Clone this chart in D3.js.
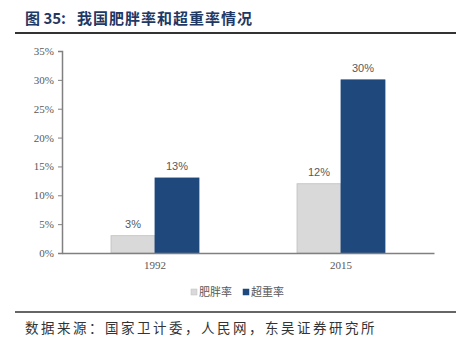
<!DOCTYPE html>
<html><head><meta charset="utf-8">
<script src="https://cdn.jsdelivr.net/npm/d3@7/dist/d3.min.js"></script>
<style>body{margin:0;background:#fff}</style>
</head><body>
<svg id="c" width="466" height="351"></svg>
<script>
const categories = ["1992", "2015"];
const seriesNames = ["肥胖率", "超重率"];
const obesity = [3, 12];
const overweight = [13, 30];
const yTicks = [0, 5, 10, 15, 20, 25, 30, 35];
const titleLabel = "图 35:";
const titleText = "我国肥胖率和超重率情况";
const source = "数据来源：国家卫计委，人民网，东吴证券研究所";

const colors = ["#d9d9d9", "#1f497d"];
const strokes = ["#bfbfbf", "#1f497d"];
const svg = d3.select("#c");
const serif = "'Liberation Serif','DejaVu Serif',serif";
const cjk = "'Noto Sans CJK SC',sans-serif";

// title
svg.append("text").attr("x", 25).attr("y", 24).attr("font-family", cjk)
  .attr("font-weight", "bold").attr("font-size", 15).attr("fill", "#1f3864").text(titleLabel);
svg.append("text").attr("x", 77).attr("y", 24).attr("font-family", cjk)
  .attr("font-weight", "bold").attr("font-size", 15).attr("letter-spacing", 1)
  .attr("fill", "#1f3864").text(titleText);
svg.append("line").attr("x1", 15).attr("x2", 456).attr("y1", 33).attr("y2", 33)
  .attr("stroke", "#333").attr("stroke-width", 2);

const x0 = d3.scaleBand().domain(categories).range([62, 434]).paddingInner(0.527).paddingOuter(0.2635);
const x1 = d3.scaleBand().domain(seriesNames).range([0, x0.bandwidth()]);
const y = d3.scaleLinear().domain([0, 35]).range([253, 51]);

// y axis
const ya = svg.append("g").attr("transform", "translate(62,0)")
  .call(d3.axisLeft(y).tickValues(yTicks).tickSize(4).tickFormat(d => d + "%"));
ya.select(".domain").attr("stroke", "#808080").attr("stroke-width", 1.5);
ya.selectAll(".tick line").attr("stroke", "#808080");
ya.selectAll(".tick text").attr("font-family", serif).attr("font-size", 11).attr("fill", "#595959").attr("x", -8);

// bars
const data = categories.map((c, i) => ({ c, vals: [obesity[i], overweight[i]] }));
const g = svg.append("g");
data.forEach(d => {
  d.vals.forEach((v, j) => {
    const s = seriesNames[j];
    g.append("rect").attr("x", x0(d.c) + x1(s)).attr("y", y(v))
      .attr("width", x1.bandwidth()).attr("height", y(0) - y(v))
      .attr("fill", colors[j]).attr("stroke", strokes[j]).attr("stroke-width", 0.8);
    g.append("text").attr("x", x0(d.c) + x1(s) + x1.bandwidth() / 2).attr("y", y(v) - 8)
      .attr("text-anchor", "middle").attr("font-family", "'Liberation Sans','Open Sans',sans-serif")
      .attr("font-size", 11).attr("fill", "#595959").text(v + "%");
  });
});

// x axis
const xa = svg.append("g").attr("transform", "translate(0,253)")
  .call(d3.axisBottom(x0).tickSize(0).tickSizeOuter(0));
xa.select(".domain").attr("stroke", "#808080").attr("stroke-width", 1.5);
xa.selectAll(".tick text").attr("font-family", serif).attr("font-size", 11).attr("fill", "#595959").attr("dy", "1.2em");

// legend
const lx = [191, 243];
seriesNames.forEach((s, j) => {
  svg.append("rect").attr("x", lx[j]).attr("y", 289).attr("width", 6).attr("height", 6)
    .attr("fill", colors[j]).attr("stroke", strokes[j]).attr("stroke-width", 0.5);
  svg.append("text").attr("x", lx[j] + 8).attr("y", 296).attr("font-family", cjk)
    .attr("font-size", 11).attr("fill", "#595959").text(s);
});

// footer
svg.append("line").attr("x1", 15).attr("x2", 456).attr("y1", 312).attr("y2", 312)
  .attr("stroke", "#333").attr("stroke-width", 1.5);
svg.append("text").attr("x", 25).attr("y", 333).attr("font-family", cjk)
  .attr("font-size", 13.5).attr("letter-spacing", 2.5).attr("fill", "#333").text(source);
</script>
</body></html>
